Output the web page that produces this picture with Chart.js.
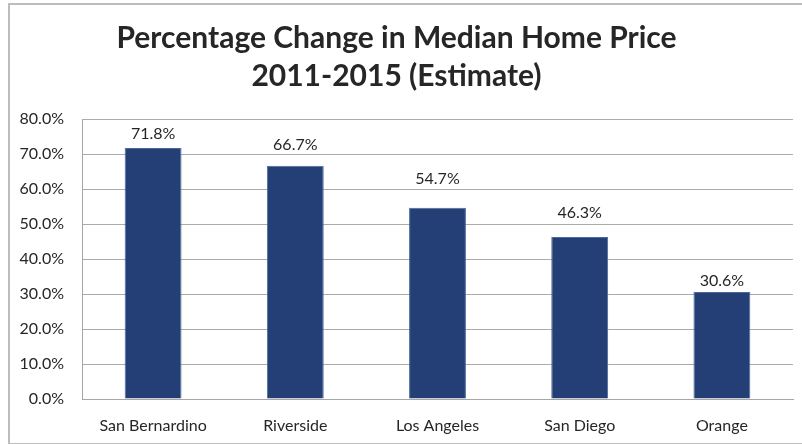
<!DOCTYPE html>
<html>
<head>
<meta charset="utf-8">
<script src="https://cdn.jsdelivr.net/npm/chart.js@4.4.1/dist/chart.umd.min.js"></script>
<style>
  html, body { margin: 0; padding: 0; background: #ffffff; }
  #wrap { position: relative; width: 802px; height: 444px; overflow: hidden; }
  #frame {
    position: absolute; left: 8px; top: 3px; width: 820px; height: 438px;
    border: 2px solid #bdbdbd;
  }
  #chart { position: absolute; left: 0; top: 0; }
</style>
</head>
<body>
<div id="wrap">
  <div id="frame"></div>
  <canvas id="chart" width="802" height="444"></canvas>
</div>
<script>
const counties = ['San Bernardino', 'Riverside', 'Los Angeles', 'San Diego', 'Orange'];
const pctChange = [71.8, 66.7, 54.7, 46.3, 30.6];
const yTicks = [0, 10, 20, 30, 40, 50, 60, 70, 80];
const titleLines = ['Percentage Change in Median Home Price', '2011-2015 (Estimate)'];

const FONT = 'Lato, "Open Sans", sans-serif';
const INK = '#262626';

/* ── value labels above the bars ── */
const valueLabels = {
  id: 'valueLabels',
  afterDatasetsDraw(chart, args, opts) {
    const ctx = chart.ctx;
    const meta = chart.getDatasetMeta(0);
    ctx.save();
    ctx.font = opts.size + 'px ' + FONT;
    ctx.fillStyle = INK;
    ctx.textAlign = 'center';
    ctx.textBaseline = 'middle';
    meta.data.forEach((bar, i) => {
      const lift = opts.lift[i] ?? 14;
      ctx.fillText(pctChange[i].toFixed(1) + '%', bar.x, bar.y - lift);
    });
    ctx.restore();
  }
};

new Chart(document.getElementById('chart'), {
  type: 'bar',
  data: {
    labels: counties,
    datasets: [{
      data: pctChange,
      backgroundColor: '#243f75',
      borderColor: '#4d6a9a',
      borderWidth: 1,
      barPercentage: 0.4,
      categoryPercentage: 1
    }]
  },
  options: {
    responsive: false,
    animation: false,
    layout: { padding: { left: 0, right: 9, top: 0, bottom: 0 } },
    plugins: {
      legend: { display: false },
      tooltip: { enabled: false },
      title: {
        display: true,
        text: titleLines,
        color: INK,
        font: { family: FONT, size: 30, weight: 'bold', lineHeight: 1.27 },
        padding: { top: 19, bottom: 24 }
      },
      valueLabels: { size: 16, lift: [14, 21, 29, 24, 11] }
    },
    scales: {
      x: {
        grid: { display: false, drawTicks: false },
        border: { display: true, color: '#a6a6a6', width: 1 },
        ticks: { color: INK, font: { family: FONT, size: 16 }, padding: 17, maxRotation: 0 },
        afterFit: s => { s.height = 45; }
      },
      y: {
        min: 0,
        max: 80,
        afterBuildTicks: s => { s.ticks = yTicks.map(v => ({ value: v })); },
        grid: { color: '#ababab', lineWidth: 1, drawTicks: false },
        border: { display: true, color: '#a6a6a6', width: 1 },
        ticks: {
          color: INK,
          font: { family: FONT, size: 16 },
          padding: 18,
          callback: v => v.toFixed(1) + '%'
        },
        afterFit: s => { s.width = 82; }
      }
    }
  },
  plugins: [valueLabels]
});
</script>
</body>
</html>
